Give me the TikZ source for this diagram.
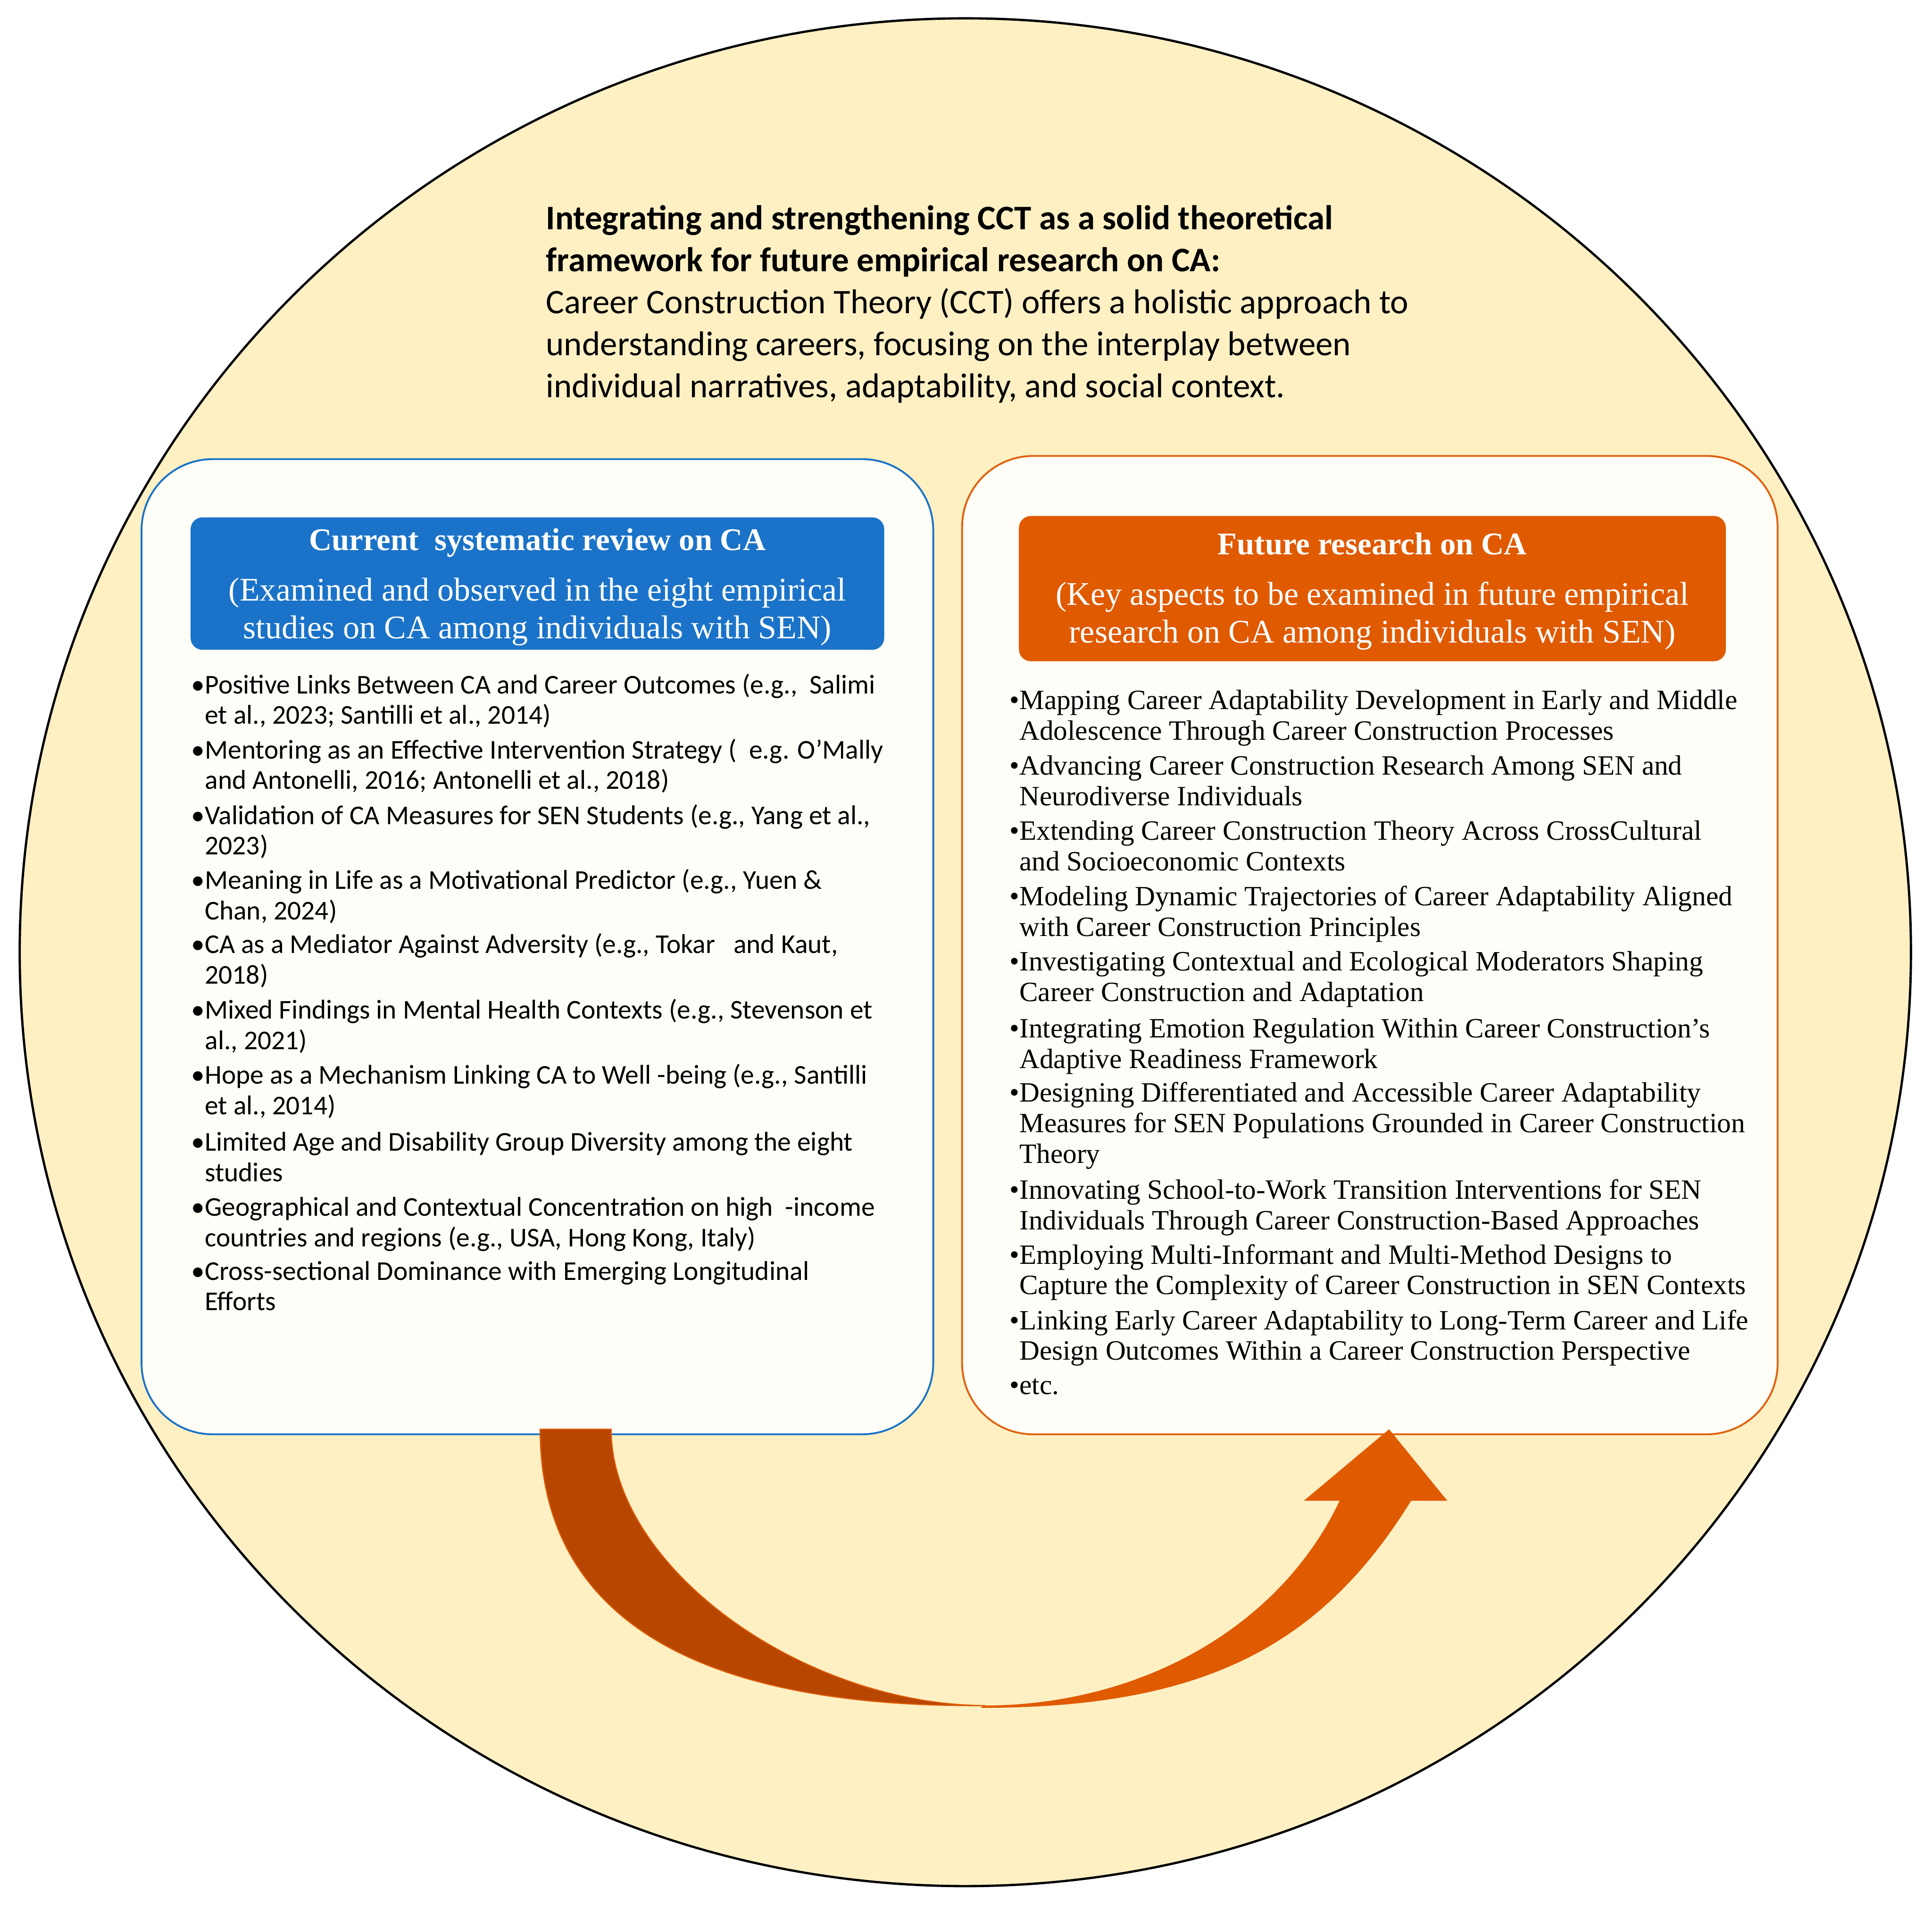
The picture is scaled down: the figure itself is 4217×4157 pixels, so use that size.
\documentclass[tikz,border=0pt]{standalone}
\usepackage{fontspec}
\setmainfont{Liberation Serif}
\newfontfamily\calibri{Carlito}
\definecolor{circfill}{HTML}{FFF0C4}
\definecolor{boxfill}{HTML}{FFFDF7}
\definecolor{cablue}{HTML}{1A73C8}
\definecolor{caorange}{HTML}{E05A00}
\definecolor{caborder}{HTML}{E0620E}
\definecolor{arrowdark}{HTML}{B74600}
\begin{document}
\begin{tikzpicture}[x=0.25pt,y=-0.25pt,
  outerbox/.style={draw, line width=1pt, fill=boxfill, rounded corners=38.75pt, inner sep=0pt},
  hdrbox/.style={rounded corners=6.5pt, inner sep=0pt},
  hdrtext/.style={text=white, align=center, inner sep=0pt,
     font=\fontsize{18pt}{20.6pt}\selectfont},
  litem/.style={anchor=base west, inner sep=0pt, align=left,
     font=\calibri\fontsize{14.8pt}{16.6pt}\selectfont},
  ritem/.style={anchor=base west, inner sep=0pt, align=left,
     font=\fontsize{15.25pt}{16.7pt}\selectfont},
  toptext/.style={anchor=base west, inner sep=0pt, align=left,
     font=\calibri\fontsize{18.8pt}{22.9pt}\selectfont}
]
\useasboundingbox (0,0) rectangle (4217,4157);
\fill[white] (0,0) rectangle (4217,4157);
% big circle
\draw[line width=1.25pt, fill=circfill] (2107,2078) ellipse [x radius=516pt, y radius=509.5pt];

% top text (anchored at the baseline of its last line)
\node[toptext] (intro) at (1191,867) {{\bfseries Integrating and strengthening CCT as a solid theoretical}\\
{\bfseries framework for future empirical research on CA:}\\
Career Construction Theory (CCT) offers a holistic approach to\\
understanding careers, focusing on the interplay between\\
individual narratives, adaptability, and social context.};

% boxes
\node[outerbox, draw=cablue, minimum width=432pt, minimum height=532pt] (lbox) at (1173,2066) {};
\node[outerbox, draw=caborder, minimum width=445pt, minimum height=533.75pt] (rbox) at (2990,2062.5) {};

% headers
\node[hdrbox, fill=cablue, minimum width=378.5pt, minimum height=72.25pt] (lhead) at (1173,1273.5) {};
\node[hdrtext] (lheadtxt) at (1173,1281)
 {{\bfseries\fontsize{17.2pt}{20.6pt}\selectfont Current~ systematic review on CA}\\[7pt]
 (Examined and observed in the eight empirical\\
 studies on CA among individuals with SEN)};
\node[hdrbox, fill=caorange, minimum width=385.75pt, minimum height=79.25pt] (rhead) at (2995.5,1284.5) {};
\node[hdrtext] (rheadtxt) at (2995.5,1290)
 {{\bfseries\fontsize{17.2pt}{20.6pt}\selectfont Future research on CA}\\[7pt]
 (Key aspects to be examined in future empirical\\
 research on CA among individuals with SEN)};

% left list (each node anchored at the baseline of its last line)
\node[litem] (l1) at (417,1580) {•Positive Links Between CA and Career Outcomes (e.g.,~ Salimi\\\hphantom{•}et al., 2023; Santilli et al., 2014)};
\node[litem] (l2) at (417,1722) {•Mentoring as an Effective Intervention Strategy (~ e.g. O’Mally\\\hphantom{•}and Antonelli, 2016; Antonelli et al., 2018)};
\node[litem] (l3) at (417,1865) {•Validation of CA Measures for SEN Students (e.g., Yang et al.,\\\hphantom{•}2023)};
\node[litem] (l4) at (417,2007) {•Meaning in Life as a Motivational Predictor (e.g., Yuen \&\\\hphantom{•}Chan, 2024)};
\node[litem] (l5) at (417,2147) {•CA as a Mediator Against Adversity (e.g., Tokar~~ and Kaut,\\\hphantom{•}2018)};
\node[litem] (l6) at (417,2290) {•Mixed Findings in Mental Health Contexts (e.g., Stevenson et\\\hphantom{•}al., 2021)};
\node[litem] (l7) at (417,2432) {•Hope as a Mechanism Linking CA to Well -being (e.g., Santilli\\\hphantom{•}et al., 2014)};
\node[litem] (l8) at (417,2578) {•Limited Age and Disability Group Diversity among the eight\\\hphantom{•}studies};
\node[litem] (l9) at (417,2720) {•Geographical and Contextual Concentration on high~ -income\\\hphantom{•}countries and regions (e.g., USA, Hong Kong, Italy)};
\node[litem] (l10) at (417,2860) {•Cross-sectional Dominance with Emerging Longitudinal\\\hphantom{•}Efforts};

% right list (each node anchored at the baseline of its last line)
\node[ritem] (r1) at (2203,1615) {•Mapping Career Adaptability Development in Early and Middle\\\hphantom{•}Adolescence Through Career Construction Processes};
\node[ritem] (r2) at (2203,1758) {•Advancing Career Construction Research Among SEN and\\\hphantom{•}Neurodiverse Individuals};
\node[ritem] (r3) at (2203,1900) {•Extending Career Construction Theory Across CrossCultural\\\hphantom{•}and Socioeconomic Contexts};
\node[ritem] (r4) at (2203,2043) {•Modeling Dynamic Trajectories of Career Adaptability Aligned\\\hphantom{•}with Career Construction Principles};
\node[ritem] (r5) at (2203,2185) {•Investigating Contextual and Ecological Moderators Shaping\\\hphantom{•}Career Construction and Adaptation};
\node[ritem] (r6) at (2203,2331) {•Integrating Emotion Regulation Within Career Construction’s\\\hphantom{•}Adaptive Readiness Framework};
\node[ritem] (r7) at (2203,2538) {•Designing Differentiated and Accessible Career Adaptability\\\hphantom{•}Measures for SEN Populations Grounded in Career Construction\\\hphantom{•}Theory};
\node[ritem] (r8) at (2203,2683) {•Innovating School-to-Work Transition Interventions for SEN\\\hphantom{•}Individuals Through Career Construction-Based Approaches};
\node[ritem] (r9) at (2203,2825) {•Employing Multi-Informant and Multi-Method Designs to\\\hphantom{•}Capture the Complexity of Career Construction in SEN Contexts};
\node[ritem] (r10) at (2203,2968) {•Linking Early Career Adaptability to Long-Term Career and Life\\\hphantom{•}Design Outcomes Within a Career Construction Perspective};
\node[ritem] (r11) at (2203,3043) {•etc.};

% curved arrow from left box to right box
\filldraw[fill=arrowdark, draw=caorange, line width=0.6pt]
  (1179,3119) -- (1334,3119)
  .. controls (1334,3419) and (1750,3720) .. (2150,3722)
  .. controls (1550,3727) and (1179,3549) .. (1179,3119) -- cycle;
\fill[caorange]
  (2140,3727) .. controls (2620,3727) and (2880,3598) .. (3080,3275)
  -- (3159,3275) -- (3032,3119) -- (2846,3275) -- (2924,3275)
  .. controls (2796,3546) and (2496,3722) .. (2146,3722) -- cycle;
\end{tikzpicture}
\end{document}
